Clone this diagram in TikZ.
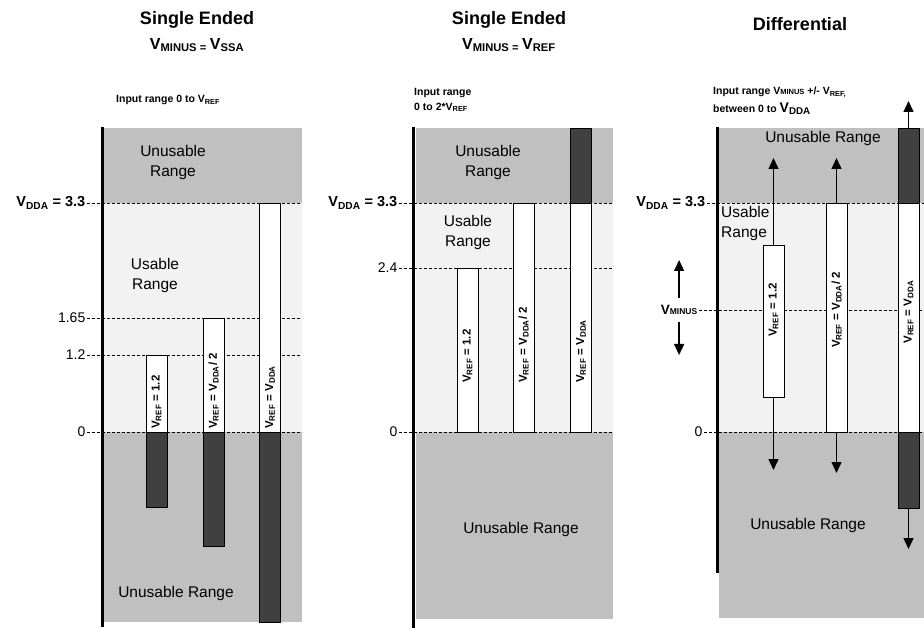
\documentclass[tikz,border=0pt]{standalone}
\usepackage{fontspec}
\setmainfont{Liberation Sans}
\usetikzlibrary{arrows.meta}
\definecolor{RangeGray}{HTML}{C0C0C0}
\definecolor{RangeLight}{HTML}{F2F2F2}
\definecolor{BarDark}{HTML}{404040}
\tikzset{
  unusable/.style={fill=RangeGray},
  usable/.style={fill=RangeLight},
  axisline/.style={line width=3pt},
  levelline/.style={densely dashed, line width=0.8pt},
  bar/.style={draw, line width=0.8pt, minimum width=21pt, inner sep=0pt, outer sep=0pt},
  barlabel/.style={rotate=90, font=\bfseries\fontsize{11.5}{12}\selectfont, inner sep=0pt},
  rangetext/.style={font=\fontsize{15.5}{20}\selectfont, align=center},
  levellabel/.style={font=\fontsize{14}{16}\selectfont, inner sep=1.5pt, anchor=east},
  levelbold/.style={levellabel, font=\bfseries\fontsize{14.5}{16}\selectfont},
  header/.style={font=\bfseries\fontsize{18}{20}\selectfont},
  subheader/.style={font=\bfseries\fontsize{16}{18}\selectfont},
  note/.style={font=\bfseries\fontsize{10.5}{15}\selectfont, align=left, anchor=west, inner sep=0pt},
  updown/.style={-{Triangle[length=11pt,width=10pt]}, line width=1.4pt}
}

\begin{document}
\begin{tikzpicture}[x=1pt,y=-1pt]
  \useasboundingbox (0,0) rectangle (924,628);
  % Range bands of the three panels: left/right/bottom
  \foreach \l/\r/\b in {104/302/622, 416/613/619, 719/924/618}{%
    \fill[unusable] (\l,128) rectangle (\r,203);
    \fill[usable] (\l,203) rectangle (\r,432);
    \fill[unusable] (\l,432) rectangle (\r,\b);
  }
  \foreach \x/\b in {102/627, 413/628, 717/573}
    \draw[axisline] (\x,127) -- (\x,\b);

  % Titles
  \node[header] (t1) at (197,20) {Single Ended};
  \node[subheader] (t1sub) at (197,45) {V\textsubscript{MINUS = }V\textsubscript{SSA}};
  \node[header] (t2) at (509,20) {Single Ended};
  \node[subheader] (t2sub) at (509,45) {V\textsubscript{MINUS = }V\textsubscript{REF}};
  \node[header] (t3) at (800,24) {Differential};

  % Input range notes
  \node[note] (in1) at (116,100) {Input range 0 to V\textsubscript{REF}};
  \node[note] (in2) at (414,100) {Input range\\0 to 2*V\textsubscript{REF}};
  \node[note] (in3) at (713,101) {Input range V{\fontsize{7.5}{8}\selectfont MINUS} +/- V\textsubscript{REF,}\\[3pt]
    between 0 to {\fontsize{14}{16}\selectfont V\textsubscript{DDA}}};

  % Level labels and dashed levels
  \node[levelbold] (a33) at (87,203) {V\textsubscript{DDA} = 3.3};
  \node[levellabel] (a165) at (87,318) {1.65};
  \node[levellabel] (a12) at (87,355) {1.2};
  \node[levellabel] (a0) at (87,432) {0};
  \node[levelbold] (b33) at (399,203) {V\textsubscript{DDA} = 3.3};
  \node[levellabel] (b24) at (399,268) {2.4};
  \node[levellabel] (b0) at (399,432) {0};
  \node[levelbold] (c33) at (707,203) {V\textsubscript{DDA} = 3.3};
  \node[levelbold, font=\bfseries\fontsize{13.5}{14}\selectfont] (vmin) at (699,310) {V{\fontsize{8.5}{9}\selectfont MINUS}};
  \node[levellabel] (c0) at (704,432) {0};
  \foreach \n/\r/\y in {a33/302/203, a165/302/318, a12/302/355, a0/302/432,
                        b33/613/203, b24/613/268, b0/613/432,
                        c33/924/203, vmin/924/310, c0/924/432}
    \draw[levelline] (\n.east) -- (\r,\y);

  % Reference bars: name/x/top/bottom/colour
  \foreach \nm/\x/\a/\b/\col in {%
    s1w/156.5/355/432/white, s1d/156.5/432/507/BarDark,
    s2w/213.5/318/432/white, s2d/213.5/432/546/BarDark,
    s3w/270/203/432/white,   s3d/270/432/622/BarDark,
    r1w/467.5/268/432/white,
    r2w/523.5/203/432/white,
    r3d/581/128/203/BarDark, r3w/581/203/432/white,
    d1w/773.5/245/397/white,
    d2w/836.5/203/432/white,
    d3u/908.5/128/203/BarDark, d3w/908.5/203/432/white, d3d/908.5/432/508/BarDark}
  {%
    \pgfmathsetmacro\h{\b-\a}
    \node[bar, fill=\col, minimum height=\h pt] (\nm) at (\x,{(\a+\b)/2}) {};
  }

  % Bar labels
  \def\lblfix{V\textsubscript{REF} = 1.2}
  \def\lblhalf{V\textsubscript{REF} = V\textsubscript{DDA}/ 2}
  \def\lblfull{V\textsubscript{REF} = V\textsubscript{DDA}}
  \foreach \nm/\x/\y/\anc/\t in {%
    q1/156.5/429/west/\lblfix, q2/213.5/429/west/\lblhalf, q3/270/429/west/\lblfull,
    u1/467.5/383/west/\lblfix, u2/523.5/383/west/\lblhalf, u3/581/383/west/\lblfull,
    v1/773.5/310/center/\lblfix, v2/836.5/310/center/\lblhalf, v3/908.5/312/center/\lblfull}
    \node[barlabel, anchor=\anc] (\nm) at (\x,\y) {\t};

  % Range texts
  \node[rangetext] (p1top) at (173,162) {Unusable\\Range};
  \node[rangetext] (p1mid) at (155,275) {Usable\\Range};
  \node[rangetext] (p1bot) at (176,593) {Unusable Range};
  \node[rangetext] (p2top) at (488,162) {Unusable\\Range};
  \node[rangetext] (p2mid) at (468,232) {Usable\\Range};
  \node[rangetext] (p2bot) at (521,529) {Unusable Range};
  \node[rangetext] (p3top) at (823,138) {Unusable Range};
  \node[rangetext, align=left, anchor=west, inner sep=0pt] (p3mid) at (721,223) {Usable\\Range};
  \node[rangetext] (p3bot) at (808,525) {Unusable Range};

  % Swing arrows of the differential input
  \coordinate (swingtop) at (0,158);
  \coordinate (d1low) at (0,470);
  \coordinate (d2low) at (0,473);
  \coordinate (d3high) at (0,101);
  \coordinate (d3low) at (0,549);
  \coordinate (vmhigh) at (0,260);
  \coordinate (vmlow) at (0,355);
  \draw[updown] (d1w.north) -- (d1w.north |- swingtop);
  \draw[updown] (d1w.south) -- (d1w.south |- d1low);
  \draw[updown] (d2w.north) -- (d2w.north |- swingtop);
  \draw[updown] (d2w.south) -- (d2w.south |- d2low);
  \draw[updown] (d3u.north) -- (d3u.north |- d3high);
  \draw[updown] (d3d.south) -- (d3d.south |- d3low);
  \draw[updown, shorten <=6pt] (vmin.north) -- (vmin.north |- vmhigh);
  \draw[updown, shorten <=6pt] (vmin.south) -- (vmin.south |- vmlow);
\end{tikzpicture}
\end{document}
